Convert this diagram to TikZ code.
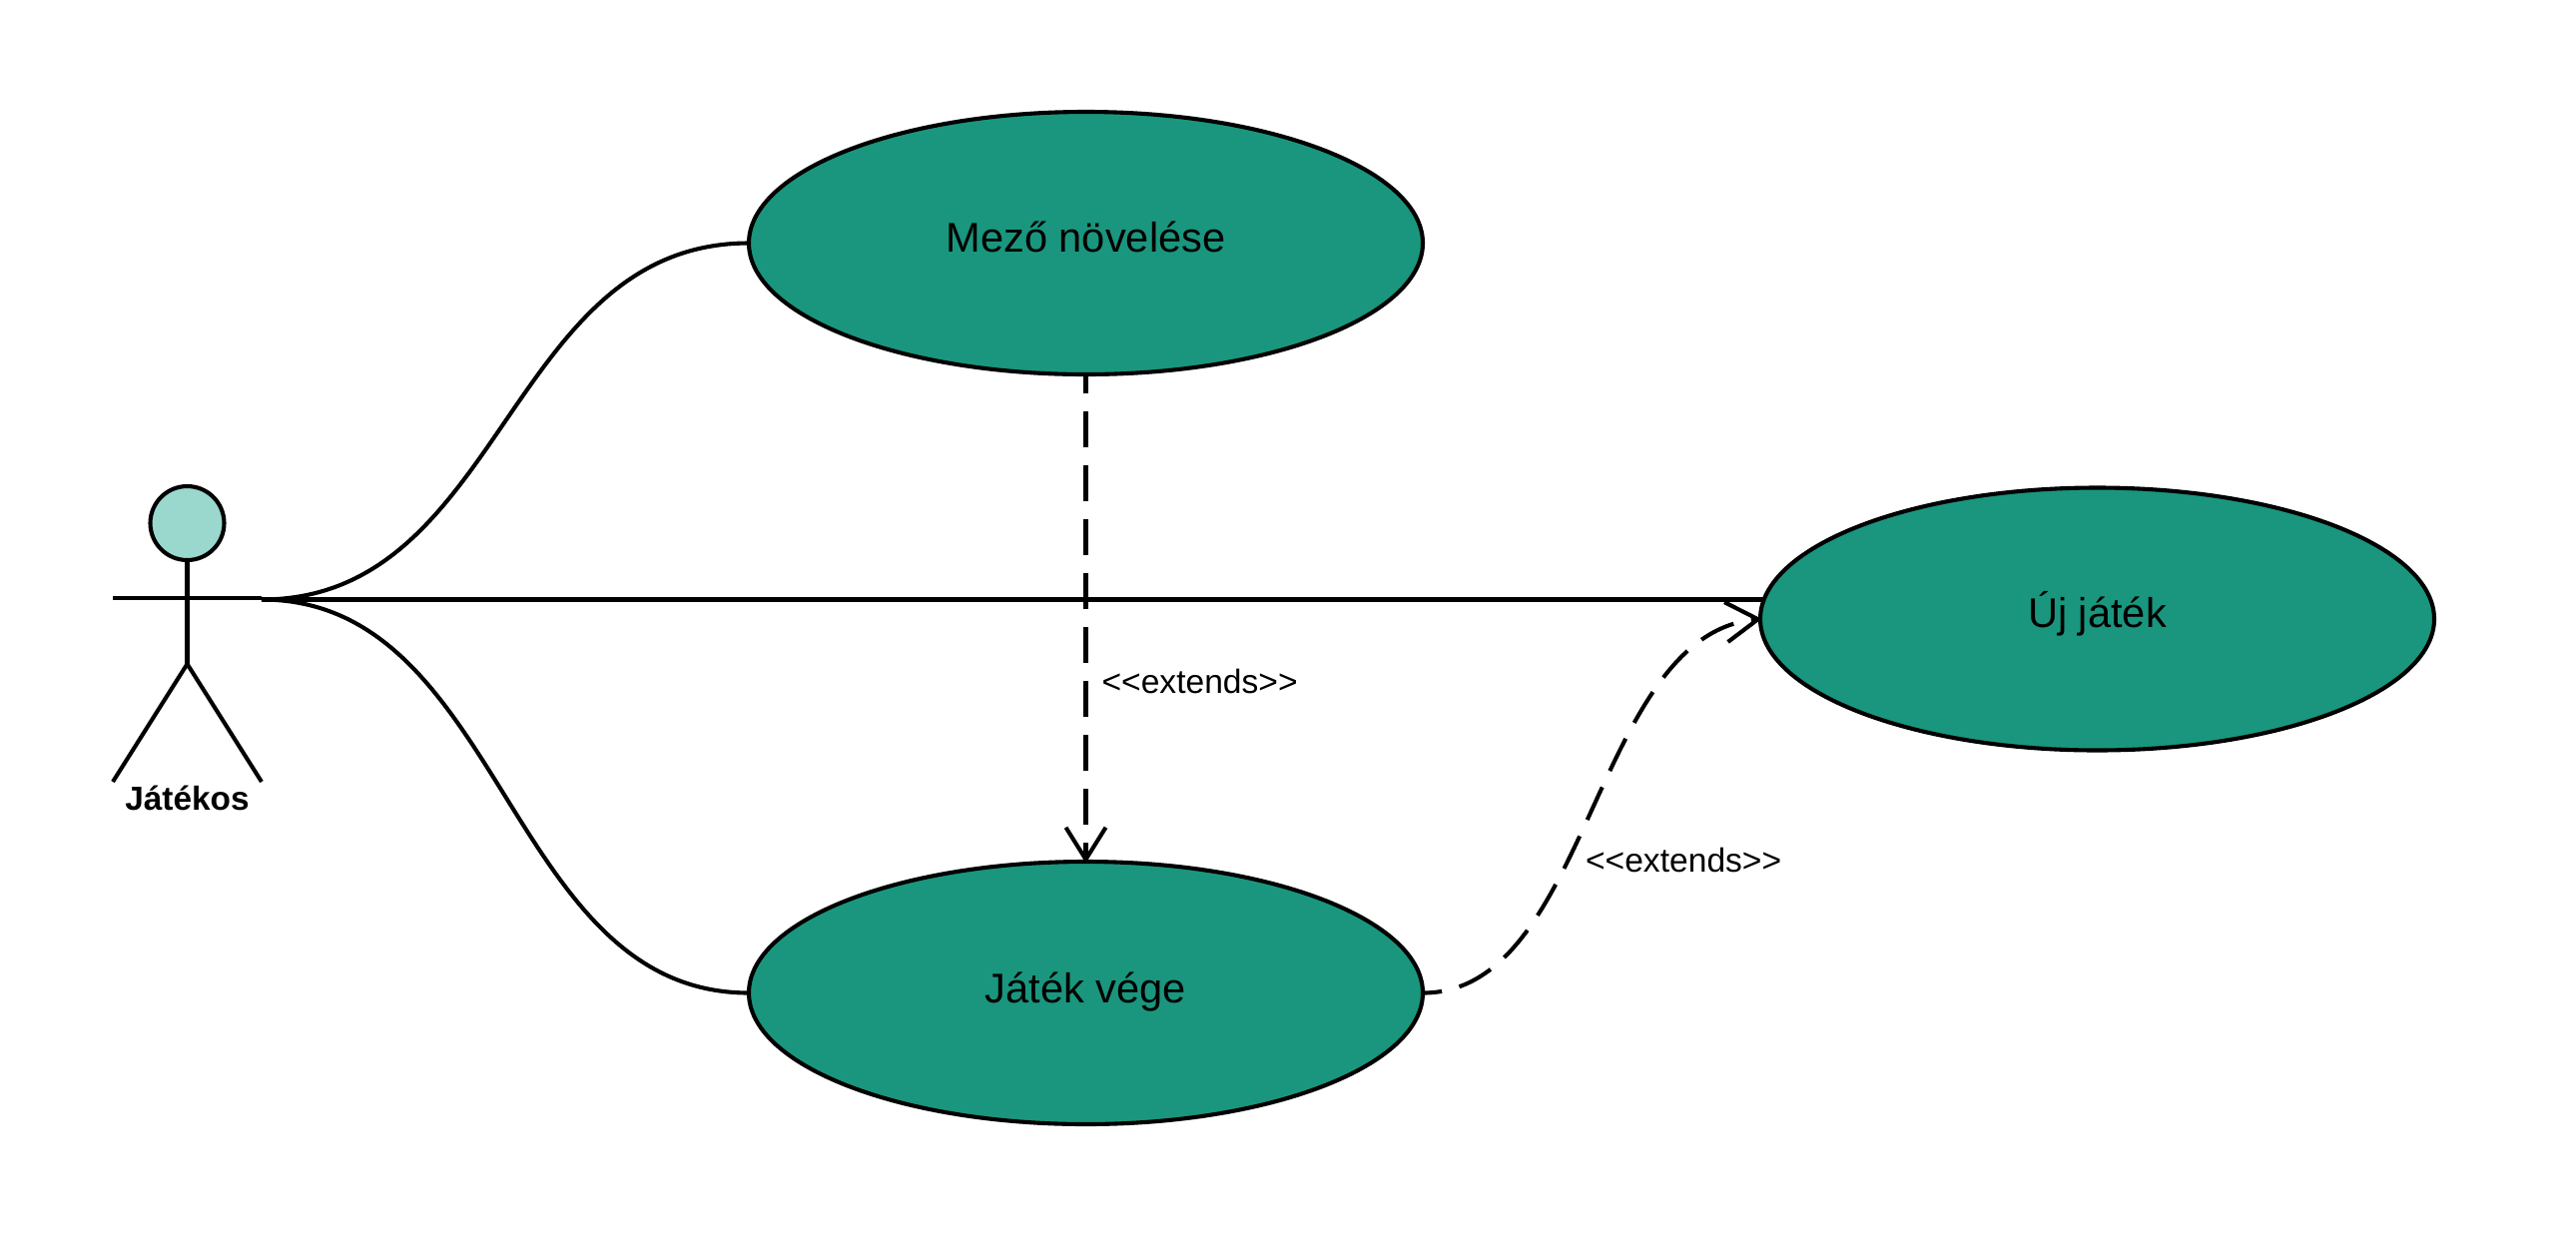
\documentclass[tikz,border=0pt]{standalone}
\usepackage{fontspec}
\setmainfont{Liberation Sans}
\usetikzlibrary{arrows.meta, shapes.geometric}

\begin{document}
\begin{tikzpicture}[
        x=0.5pt, y=-0.5pt,
        line width=2.05pt,
        usecase/.style={ellipse, draw, fill=usecasegreen, minimum width=337.5pt, minimum height=131.5pt,
            inner sep=0pt, outer sep=0pt},
        usecasename/.style={anchor=base, inner sep=0pt, font=\fontsize{20.8}{24}\selectfont},
        actorhead/.style={circle, draw, fill=headgreen, minimum size=37pt, inner sep=0pt, outer sep=0pt},
        actorname/.style={anchor=base, inner sep=0pt, font=\fontsize{16.7}{20}\selectfont\bfseries},
        stereotype/.style={anchor=base west, inner sep=0pt, font=\fontsize{16.8}{20}\selectfont},
        extends/.style={dash pattern=on 18pt off 9pt, dash phase=8.4pt, shorten >=-0.8pt,
            -{Straight Barb[length=16pt,width=20pt]}}]

    \definecolor{usecasegreen}{RGB}{26,150,126}
    \definecolor{headgreen}{RGB}{154,215,204}
    \useasboundingbox (0,0) rectangle (2580,1259);

    % actor
    \node [actorhead] (head) at (187.5,524) {};
    \coordinate (hip) at (187.5,665);
    \coordinate (lefthand) at (113,599);
    \coordinate (righthand) at (262,599);
    \coordinate (leftfoot) at (113,783);
    \coordinate (rightfoot) at (262,783);
    \coordinate (shoulder) at (262,600.5);
    \draw (head) -- (hip);
    \draw (lefthand) -- (righthand);
    \draw (leftfoot) -- (hip) -- (rightfoot);
    \node [actorname] (jatekos) at (187.5,811.5) {Játékos};

    % use cases
    \node [usecase] (mezo) at (1087.5,243.5) {};
    \node [usecase] (vege) at (1087.5,994.5) {};
    \node [usecase] (uj) at (2100.5,620) {};
    \node [usecasename] (mezoname) at (1087.5,252.5) {Mező növelése};
    \node [usecasename] (vegename) at (1087.5,1004) {Játék vége};
    \node [usecasename] (ujname) at (2100.5,628.5) {Új játék};

    % associations
    \draw (shoulder) .. controls +(243,0) and +(-243,0) .. (mezo.west);
    \draw (shoulder) .. controls +(243,0) and +(-243,0) .. (vege.west);
    \draw (shoulder) -- ([xshift=1.5pt]shoulder -| uj.west);

    % extends
    \draw [extends] (mezo.south) -- (vege.north);
    \draw [extends] (vege.east) .. controls +(168,0) and +(-168,15) .. (uj.west);
    \node [stereotype] (extendsa) at (1101.5,694.2) {<{}<extends>{}>};
    \node [stereotype] (extendsb) at (1586,873.2) {<{}<extends>{}>};
\end{tikzpicture}
\end{document}
